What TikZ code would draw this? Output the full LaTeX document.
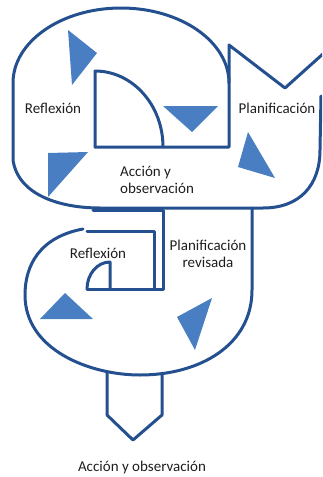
\documentclass[tikz,border=0pt]{standalone}
\usepackage{fontspec}
\setmainfont{Carlito}
\definecolor{lineblue}{RGB}{36,80,143}
\definecolor{triblue}{RGB}{74,126,195}
\definecolor{txt}{RGB}{30,30,30}
\begin{document}
\begin{tikzpicture}[x=1pt,y=-1pt,
  outl/.style={draw=lineblue,line width=3pt,line join=round,line cap=round},
  tri/.style={fill=triblue,draw=none},
  lbl/.style={text=txt,font=\fontsize{15}{17}\selectfont,inner sep=0pt}]
\useasboundingbox (0,0) rectangle (322,477);
\clip (0,0) rectangle (322,477);
% ---------- top figure ----------
\draw[outl] (229,83) .. controls (229,41.6) and (180.6,8) .. (121,8)
  .. controls (61.4,8) and (13,41.6) .. (13,83) -- (13,160)
  .. controls (18,195) and (60,208) .. (100,208) -- (263,208)
  .. controls (300,208) and (320,185) .. (320,150) -- (321,96);
\draw[outl] (95,147) -- (95,71) .. controls (132.5,71) and (163,105) .. (163,147);
\draw[outl] (95,147) -- (229,147) -- (229,45) -- (285,88) -- (324,53);
% triangles top
\fill[tri] (68,30) -- (97,53) -- (72,85) -- cycle;
\fill[tri] (163,106) -- (218,106) -- (192,132) -- cycle;
\fill[tri] (48,153) -- (88,152) -- (48,197) -- cycle;
\fill[tri] (248,132) -- (275,178) -- (238,167) -- cycle;
% ---------- lower figure ----------
\draw[outl] (93,210) -- (163,210) -- (163,289) -- (87,289);
\draw[outl] (87,231) -- (154,231) -- (154,289);
\draw[outl] (110,289) -- (110,262) .. controls (97.3,262) and (87,274.1) .. (87,289);
\draw[outl] (83,229) .. controls (40,237) and (25,265) .. (25,295)
  .. controls (25,350) and (90,375) .. (140,375)
  .. controls (200,375) and (252,345) .. (252,290) -- (252,208);
\draw[outl] (107,372) -- (107,415) -- (133,440) -- (162,415) -- (162,373);
% triangles lower
\fill[tri] (40,319) -- (93,319) -- (65,293) -- cycle;
\fill[tri] (177,317) -- (212,298) -- (195,350) -- cycle;
% ---------- labels ----------
\node[lbl] (refl1) at (53,108) {Reflexión};
\node[lbl] (plan1) at (277,108) {Planificación};
\node[lbl,anchor=west,align=left] (acc1) at (120,180) {Acción y\\observación};
\node[lbl] (refl2) at (98,253) {Reflexión};
\node[lbl,align=center] (plan2) at (208,254) {Planificación\\revisada};
\node[lbl] (acc2) at (142,467) {Acción y observación};
\end{tikzpicture}
\end{document}
